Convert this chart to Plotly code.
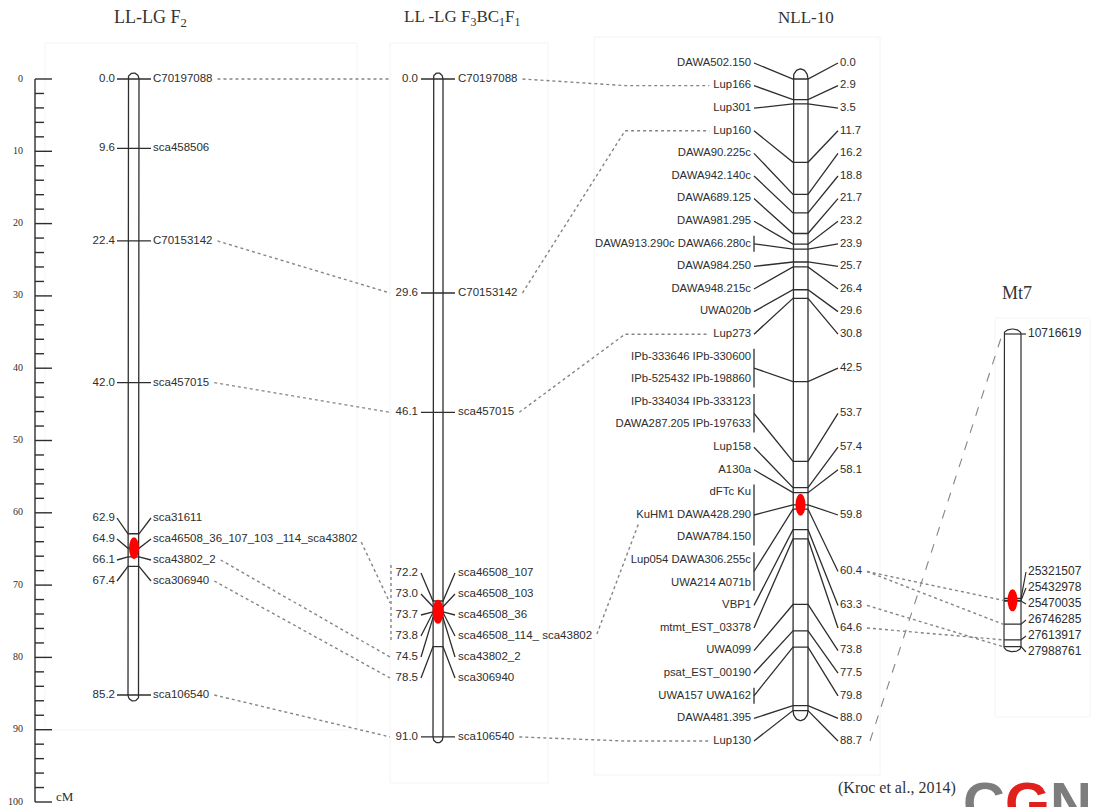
import numpy as np
import plotly.graph_objects as go

# ------------------------------------------------------------------ data
ruler_major = [0, 10, 20, 30, 40, 50, 60, 70, 80, 90, 100]
ruler_minor = [v for v in range(0, 101, 2) if v % 10]

f2_pos = [0.0, 9.6, 22.4, 42.0, 62.9, 64.9, 66.1, 67.4, 85.2]
f2_names = ["C70197088", "sca458506", "C70153142", "sca457015", "sca31611",
            "sca46508_36_107_103 _114_sca43802", "sca43802_2", "sca306940", "sca106540"]
f2_cluster = [4, 5, 6, 7]
f2_qtl = 64.9

f3_pos = [0.0, 29.6, 46.1, 72.2, 73.0, 73.7, 73.8, 74.5, 78.5, 91.0]
f3_names = ["C70197088", "C70153142", "sca457015", "sca46508_107", "sca46508_103",
            "sca46508_36", "sca46508_114_ sca43802", "sca43802_2", "sca306940", "sca106540"]
f3_cluster = [3, 4, 5, 6, 7, 8]
f3_qtl = 73.7

nll_groups = [
    ["DAWA502.150"], ["Lup166"], ["Lup301"], ["Lup160"], ["DAWA90.225c"],
    ["DAWA942.140c"], ["DAWA689.125"], ["DAWA981.295"], ["DAWA913.290c DAWA66.280c"],
    ["DAWA984.250"], ["DAWA948.215c"], ["UWA020b"], ["Lup273"],
    ["IPb-333646 IPb-330600", "IPb-525432 IPb-198860"],
    ["IPb-334034 IPb-333123", "DAWA287.205 IPb-197633"],
    ["Lup158"], ["A130a"],
    ["dFTc Ku", "KuHM1 DAWA428.290", "DAWA784.150"],
    ["Lup054 DAWA306.255c", "UWA214 A071b"],
    ["VBP1"], ["mtmt_EST_03378"], ["UWA099"], ["psat_EST_00190"], ["UWA157 UWA162"],
    ["DAWA481.395"], ["Lup130"],
]
nll_pos = [0.0, 2.9, 3.5, 11.7, 16.2, 18.8, 21.7, 23.2, 23.9, 25.7, 26.4, 29.6, 30.8,
           42.5, 53.7, 57.4, 58.1, 59.8, 60.4, 63.3, 64.6, 73.8, 77.5, 79.8, 88.0, 88.7]
nll_bracket = [False] * 8 + [True] + [False] * 4 + [True, True, False, False, True, True] + \
              [False] * 4 + [True, False, False]
nll_qtl = 59.8

mt7_bp = [10716619, 25321507, 25432978, 25470035, 26746285, 27613917, 27988761]
mt7_qtl = 25432978

f2_f3_links = [("C70197088", "C70197088"), ("C70153142", "C70153142"),
               ("sca457015", "sca457015"), ("sca43802_2", "sca43802_2"),
               ("sca306940", "sca306940"), ("sca106540", "sca106540")]
f2_f3_cluster_link = ("sca46508_36_107_103 _114_sca43802",
                      ["sca46508_107", "sca46508_103", "sca46508_36", "sca46508_114_ sca43802"])
f3_nll_links = [("C70197088", "Lup166"), ("C70153142", "Lup160"),
                ("sca457015", "Lup273"), ("sca106540", "Lup130")]
f3_nll_direct = [("sca46508_114_ sca43802", "KuHM1 DAWA428.290")]
nll_mt7_links = [(60.4, 25432978), (60.4, 26746285), (63.3, 27988761), (64.6, 27613917)]
nll_mt7_dashed = [(88.7, 10716619)]

titles = ["LL-LG F<sub>2</sub>", "LL -LG F<sub>3</sub>BC<sub>1</sub>F<sub>1</sub>", "NLL-10", "Mt7"]
citation = "(Kroc et al., 2014)"

# ------------------------------------------------------------------ scales / layout
W, H = 1093, 807
PX0 = 79.0      # pixel row of 0 cM
S = 7.23        # px per cM (ruler, F2, F3)
SN = 7.12       # px per cM (NLL-10)
MT_TOP_PX, MT_REF_MB, MT_S = 334.0, 10.716619, 18.1  # Mt7 px per Mb


def px2y(px):
    return (px - PX0) / S


def nll_y(cm):
    return cm * SN / S


def mt_y(bp):
    return px2y(MT_TOP_PX + (bp / 1e6 - MT_REF_MB) * MT_S)


SANS = "Liberation Sans, Arial, sans-serif"
SERIF = "Liberation Serif, Times New Roman, serif"
INK = "#2e2e2e"
DOT = "#858585"
FS = 11.5     # marker label size (F2, F3)
FN = 11.3     # NLL-10 label size
FM = 12       # Mt7 label size

AW = {c: 556 for c in "0123456789_aupbdkhnoqge"}
AW.update({"s": 500, "c": 500, "C": 722, " ": 278, ".": 278, "-": 333, "D": 722, "A": 667,
           "W": 944, "L": 556, "I": 278, "P": 667, "U": 722, "K": 667, "H": 722, "M": 833,
           "F": 611, "T": 611, "V": 667, "B": 667, "m": 833, "t": 278, "E": 667, "S": 667})


def tw(s, size):
    return sum(AW.get(c, 556) for c in s) / 1000 * size


def seg_xy(segs):
    xs, ys = [], []
    for sg in segs:
        for (a, b) in sg:
            xs.append(a)
            ys.append(b)
        xs.append(None)
        ys.append(None)
    return xs, ys


def chrom(x0, x1, ytop, ybot, ry_px):
    cx, rx, ry = (x0 + x1) / 2, (x1 - x0) / 2, ry_px / S
    t = np.linspace(np.pi, 0, 30)
    t2 = np.linspace(0, -np.pi, 30)
    xs = [x0] + list(cx + rx * np.cos(t)) + list(cx + rx * np.cos(t2)) + [x0]
    ys = [ybot] + list(ytop - ry * np.sin(t)) + list(ybot - ry * np.sin(t2)) + [ybot]
    return [list(zip(xs, ys))]


traces = []


def add_lines(segs, color=INK, width=1.3, dash="solid"):
    xs, ys = seg_xy(segs)
    traces.append(go.Scatter(x=xs, y=ys, mode="lines", hoverinfo="skip", showlegend=False,
                             line=dict(color=color, width=width, dash=dash)))


def add_text(xs, ys, texts, pos, size, family=SANS, color=INK):
    traces.append(go.Scatter(x=xs, y=ys, text=texts, mode="text", textposition=pos,
                             hoverinfo="skip", showlegend=False,
                             textfont=dict(size=size, family=family, color=color)))


# ------------------------------------------------------------------ faint panels
panels = [(45, 43, 357, 730), (390, 43, 548, 783), (594, 37, 880, 775), (995, 318, 1090, 717)]
add_lines([[(a, px2y(b)), (c, px2y(b)), (c, px2y(d)), (a, px2y(d)), (a, px2y(b))]
           for a, b, c, d in panels], color="#f4f4f4", width=1)

# ------------------------------------------------------------------ ruler
RX = 35
segs = [[(RX, 0), (RX, 100)]]
segs += [[(RX, v), (52, v)] for v in ruler_major]
segs += [[(RX, v), (44, v)] for v in ruler_minor]
add_lines(segs, width=1.4)
add_text([23] * len(ruler_major), ruler_major, [str(v) for v in ruler_major],
         "middle left", 10, SERIF)
add_text([56], [px2y(798)], ["cM"], "middle right", 13, SERIF)

# ------------------------------------------------------------------ LL-LG F2
f2_lab = list(f2_pos)
for k, i in enumerate(f2_cluster):
    f2_lab[i] = px2y(518 + 21 * k)
add_lines(chrom(128, 139, f2_pos[0], f2_pos[-1], 6))
add_lines([[(117, l), (128, p), (139, p), (151, l)] for p, l in zip(f2_pos, f2_lab)])
add_text([115] * len(f2_pos), f2_lab, [f"{p:.1f}" for p in f2_pos], "middle left", FS)
add_text([153] * len(f2_pos), f2_lab, f2_names, "middle right", FS)

# ------------------------------------------------------------------ LL-LG F3BC1F1
f3_lab = list(f3_pos)
for k, i in enumerate(f3_cluster):
    f3_lab[i] = px2y(573 + 21 * k)
add_lines(chrom(433, 443, f3_pos[0], f3_pos[-1], 6))
add_lines([[(421, l), (433, p), (443, p), (455, l)] for p, l in zip(f3_pos, f3_lab)])
add_text([418] * len(f3_pos), f3_lab, [f"{p:.1f}" for p in f3_pos], "middle left", FS)
add_text([458] * len(f3_pos), f3_lab, f3_names, "middle right", FS)

# ------------------------------------------------------------------ NLL-10
NROW0, NDY = 63.0, 22.6
row = 0
nll_left_rows, nll_right_y, nll_row_of = [], [], {}
for g in nll_groups:
    rows = []
    for name in g:
        yv = px2y(NROW0 + NDY * row)
        rows.append(yv)
        nll_row_of[name] = yv
        row += 1
    nll_left_rows.append(rows)
    nll_right_y.append(sum(rows) / len(rows))

add_lines(chrom(793, 808, nll_y(nll_pos[0]), nll_y(nll_pos[-1]), 10))
segs = []
for rows, p, ry, br in zip(nll_left_rows, nll_pos, nll_right_y, nll_bracket):
    yp = nll_y(p)
    segs.append([(754, ry), (793, yp), (808, yp), (838, ry)])
    if br:
        segs.append([(754, rows[0] - 8 / S), (754, rows[-1] + 8 / S)])
add_lines(segs)
names, ys = [], []
for rows, g in zip(nll_left_rows, nll_groups):
    names += g
    ys += rows
add_text([751] * len(names), ys, names, "middle left", FN)
add_text([840] * len(nll_pos), nll_right_y, [f"{p:.1f}" for p in nll_pos], "middle right", FN)

# ------------------------------------------------------------------ Mt7
mt_lab = [mt_y(mt7_bp[0])] + [px2y(572 + 16 * k) for k in range(len(mt7_bp) - 1)]
add_lines(chrom(1004, 1021, mt_y(mt7_bp[0]), mt_y(mt7_bp[-1]), 5), width=1.2)
add_lines([[(1004, mt_y(b)), (1021, mt_y(b)), (1026, l)] for b, l in zip(mt7_bp, mt_lab)],
          width=1.2)
add_text([1028] * len(mt7_bp), mt_lab, [str(b) for b in mt7_bp], "middle right", FM)

# ------------------------------------------------------------------ connectors
segs = []
for a, b in f2_f3_links:
    i, j = f2_names.index(a), f3_names.index(b)
    segs.append([(153 + tw(a, FS) + 5, f2_lab[i]), (390, f3_lab[j])])
a, bl = f2_f3_cluster_link
i = f2_names.index(a)
js = [f3_names.index(b) for b in bl]
top, bot = f3_lab[js[0]] - 8 / S, f3_lab[js[-1]] + 5 / S
segs.append([(391, top), (391, bot)])
segs.append([(153 + tw(a, FS) + 3, f2_lab[i] + 3 / S), (390, (top + bot) / 2)])
for a, b in f3_nll_links:
    j = f3_names.index(a)
    yb = nll_row_of[b]
    segs.append([(458 + tw(a, FS) + 5, f3_lab[j]), (625, yb), (751 - tw(b, FN) - 4, yb)])
for a, b in f3_nll_direct:
    j = f3_names.index(a)
    yb = nll_row_of[b]
    segs.append([(458 + tw(a, FS) + 4, f3_lab[j] - 2 / S), (751 - tw(b, FN) + 3, yb + 9 / S)])
for a, b in nll_mt7_links:
    k = nll_pos.index(a)
    segs.append([(840 + tw(f"{a:.1f}", FN) + 5, nll_right_y[k]), (1003, mt_y(b))])
add_lines(segs, color=DOT, width=1.4, dash="dot")
segs = []
for a, b in nll_mt7_dashed:
    k = nll_pos.index(a)
    segs.append([(840 + tw(f"{a:.1f}", FN) + 8, nll_right_y[k]), (1001, mt_y(b) + 4 / S)])
add_lines(segs, color=DOT, width=1.1, dash="dash")

fig = go.Figure(traces)

# ------------------------------------------------------------------ QTL dots
shapes = []
for cx, yv, hw, hh in [(134, f2_qtl, 5, 11), (438, f3_qtl, 5.5, 12),
                       (800.5, nll_y(nll_qtl), 5, 11), (1012.5, mt_y(mt7_qtl), 5, 11)]:
    shapes.append(dict(type="circle", xref="x", yref="y", xsizemode="pixel", ysizemode="pixel",
                       xanchor=cx, yanchor=yv, x0=-hw, x1=hw, y0=-hh, y1=hh,
                       fillcolor="#ff0000", line=dict(width=0), layer="above"))

annotations = []
for t, x, ypx, fsz in zip(titles, [150, 462, 806, 1017], [18, 18, 17, 293], [18, 17, 17, 18]):
    annotations.append(dict(x=x, y=px2y(ypx), xref="x", yref="y", text=t, showarrow=False,
                            font=dict(family=SERIF, size=fsz, color="#333333")))
annotations.append(dict(x=897, y=px2y(788), xref="x", yref="y", text=citation, showarrow=False,
                        font=dict(family=SERIF, size=16, color="#333333")))
annotations.append(dict(x=961, y=px2y(768), xref="x", yref="y", xanchor="left", yanchor="top",
                        showarrow=False,
                        text="<b><span style='color:#7d7d7d'>C</span>"
                             "<span style='color:#e0201c'>G</span>"
                             "<span style='color:#7d7d7d'>NA</span></b>",
                        font=dict(family="Liberation Sans, Arial, sans-serif", size=58)))

fig.update_layout(
    width=W, height=H, margin=dict(l=0, r=0, t=0, b=0),
    paper_bgcolor="white", plot_bgcolor="white",
    xaxis=dict(range=[0, W], visible=False, fixedrange=True),
    yaxis=dict(range=[px2y(H), px2y(0)], visible=False, fixedrange=True),
    shapes=shapes, annotations=annotations, showlegend=False,
)
fig.write_html("out.html", config={"displayModeBar": False},
               post_script="document.body.style.margin='0';document.body.style.overflow='hidden';")
